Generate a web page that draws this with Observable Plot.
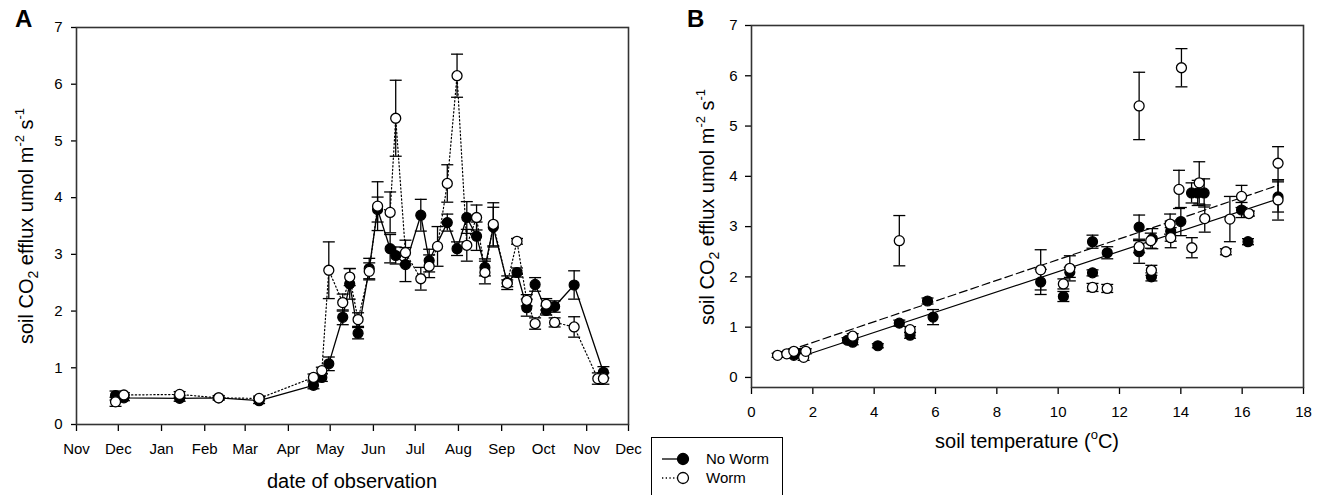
<!DOCTYPE html>
<html><head><meta charset="utf-8">
<script src="https://cdn.jsdelivr.net/npm/d3@7"></script>
<script src="https://cdn.jsdelivr.net/npm/@observablehq/plot@0.6"></script>
<style>
html,body{margin:0;padding:0;background:#fff;overflow:hidden;}
#wrap{position:relative;width:1321px;height:495px;font-family:"Liberation Sans",Arial,sans-serif;}
#panelA,#panelB{position:absolute;top:0;}
#panelA{left:0;} #panelB{left:660px;}
#legend{position:absolute;left:651px;top:437px;width:130px;height:80px;border:1px solid #000;background:#fff;}
</style></head><body><div id="wrap"><div id="panelA"></div><div id="panelB"></div><div id="legend"></div></div>
<script>
// ---------- Panel A data: flux by date ----------
const noWormDates = ["2007-11-29","2007-12-05","2008-01-14","2008-02-11","2008-03-11","2008-04-19","2008-04-25","2008-04-30","2008-05-10","2008-05-15","2008-05-21","2008-05-29","2008-06-04","2008-06-13","2008-06-17","2008-06-24","2008-07-05","2008-07-11","2008-07-24","2008-07-31","2008-08-07","2008-08-14","2008-08-20","2008-08-26","2008-09-05","2008-09-12","2008-09-19","2008-09-25","2008-10-03","2008-10-09","2008-10-23","2008-11-13"];
const noWormFlux = [0.51,0.47,0.46,0.47,0.42,0.69,0.83,1.07,1.89,2.48,1.61,2.75,3.79,3.10,2.98,2.82,3.69,2.89,3.56,3.10,3.65,3.32,2.77,3.48,2.50,2.68,2.06,2.47,2.01,2.08,2.46,0.92];
const noWormSE = [0.08,0.05,0.05,0.04,0.05,0.06,0.07,0.12,0.13,0.27,0.10,0.18,0.22,0.25,0.15,0.30,0.28,0.20,0.15,0.12,0.28,0.25,0.15,0.35,0.12,0.08,0.15,0.12,0.08,0.10,0.25,0.10];

const wormDates = ["2007-11-29","2007-12-05","2008-01-14","2008-02-11","2008-03-11","2008-04-19","2008-04-25","2008-04-30","2008-05-10","2008-05-15","2008-05-21","2008-05-29","2008-06-04","2008-06-13","2008-06-17","2008-06-24","2008-07-05","2008-07-11","2008-07-17","2008-07-24","2008-07-31","2008-08-07","2008-08-14","2008-08-20","2008-08-26","2008-09-05","2008-09-12","2008-09-19","2008-09-25","2008-10-03","2008-10-09","2008-10-23","2008-11-09","2008-11-13"];
const wormFlux = [0.40,0.52,0.53,0.47,0.46,0.83,0.95,2.72,2.15,2.60,1.85,2.70,3.85,3.74,5.40,3.03,2.57,2.79,3.14,4.25,6.15,3.16,3.65,2.68,3.53,2.49,3.23,2.19,1.78,2.12,1.80,1.72,0.81,0.81];
const wormSE = [0.08,0.04,0.05,0.03,0.04,0.06,0.06,0.50,0.15,0.15,0.12,0.15,0.43,0.36,0.67,0.22,0.20,0.20,0.35,0.33,0.38,0.28,0.22,0.20,0.38,0.06,0.05,0.10,0.10,0.10,0.08,0.18,0.10,0.10];

const monthLabels = ["Nov","Dec","Jan","Feb","Mar","Apr","May","Jun","Jul","Aug","Sep","Oct","Nov","Dec"];
const dateDomain = ["2007-11-01","2008-12-01"];
const yTicksA = [0,1,2,3,4,5,6,7];

// ---------- Panel B data: flux by soil temperature ----------
const noWormTemp = [1.38,1.60,3.13,3.30,4.12,4.82,5.17,5.74,5.92,9.43,10.17,10.38,11.12,11.12,11.60,12.64,12.64,13.04,13.07,13.67,14.00,14.35,14.55,14.76,15.98,16.19,17.17];
const noWormFluxB = [0.44,0.48,0.74,0.70,0.63,1.08,0.84,1.52,1.20,1.90,1.61,2.09,2.08,2.70,2.48,2.50,2.99,2.00,2.76,2.91,3.10,3.67,3.67,3.67,3.33,2.70,3.59];
const noWormSEB = [0.05,0.05,0.05,0.05,0.04,0.06,0.06,0.06,0.15,0.25,0.10,0.10,0.06,0.13,0.12,0.23,0.24,0.08,0.20,0.20,0.28,0.20,0.25,0.28,0.15,0.06,0.30];

const wormTemp = [0.85,1.15,1.38,1.70,1.77,3.30,4.82,5.17,9.43,10.17,10.38,11.12,11.60,12.64,12.64,13.02,13.04,13.65,13.67,13.94,14.02,14.36,14.60,14.78,15.47,15.60,15.98,16.22,17.17,17.17];
const wormFluxB = [0.44,0.47,0.52,0.40,0.52,0.82,2.72,0.95,2.14,1.86,2.17,1.79,1.77,5.40,2.60,2.72,2.13,3.05,2.78,3.74,6.16,2.58,3.87,3.16,2.50,3.15,3.60,3.26,4.26,3.53];
const wormSEB = [0.04,0.04,0.05,0.06,0.05,0.05,0.50,0.06,0.40,0.10,0.25,0.08,0.08,0.67,0.12,0.15,0.10,0.20,0.20,0.38,0.38,0.20,0.42,0.27,0.06,0.45,0.22,0.05,0.33,0.40];

// regression fits [intercept, slope]
const fitNoWorm = [0.089, 0.2016];
const fitWorm = [0.284, 0.206];
const xTicksB = [0,2,4,6,8,10,12,14,16,18];
const yTicksB = [0,1,2,3,4,5,6,7];

// ---------- build tables ----------
const tableA = (dates, flux, se) => dates.map((d,i)=>({date:new Date(d), flux:flux[i], se:se[i]}));
const tableB = (t, flux, se) => t.map((x,i)=>({temp:x, flux:flux[i], se:se[i]}));
const nwA = tableA(noWormDates, noWormFlux, noWormSE);
const wA = tableA(wormDates, wormFlux, wormSE);
const nwB = tableB(noWormTemp, noWormFluxB, noWormSEB);
const wB = tableB(wormTemp, wormFluxB, wormSEB);
const fitLine = (temps, fit) => d3.extent(temps).map(t=>({temp:t, flux:fit[0]+fit[1]*t}));

const cap = {draw(ctx, size){ const r = Math.sqrt(size/Math.PI); ctx.moveTo(-r,0); ctx.lineTo(r,0); }};
const FONT = '"Liberation Sans", Arial, sans-serif';

function errMarks(data, x) {
  return [
    Plot.ruleX(data, {x, y1: d=>d.flux-d.se, y2: d=>d.flux+d.se, stroke:"black", strokeWidth:1.3}),
    Plot.dot(data, {x, y: d=>d.flux+d.se, symbol: cap, r:6, stroke:"black", fill:"none", strokeWidth:1.3}),
    Plot.dot(data, {x, y: d=>d.flux-d.se, symbol: cap, r:6, stroke:"black", fill:"none", strokeWidth:1.3})
  ];
}

const monthTicks = d3.utcMonth.range(new Date(dateDomain[0]), d3.utcDay.offset(new Date(dateDomain[1]),1));

const plotA = Plot.plot({
  width: 660, height: 495,
  marginLeft: 76, marginTop: 27, marginRight: 32, marginBottom: 71,
  style: {fontFamily: FONT, fontSize: "15px", color: "black", background: "white"},
  x: {type: "utc", domain: dateDomain.map(d=>new Date(d))},
  y: {domain: [0,7]},
  marks: [
    Plot.axisX({ticks: monthTicks, tickFormat: (d,i)=>monthLabels[i], tickSize: 7, tickPadding: 12, label: null, strokeWidth: 1.3, fontSize: 15}),
    Plot.axisY({ticks: yTicksA, tickFormat: d=>String(d), tickSize: 5, tickPadding: 9, label: null, strokeWidth: 1.3, fontSize: 15}),
    Plot.line(nwA, {x:"date", y:"flux", stroke:"black", strokeWidth:1.3}),
    Plot.line(wA, {x:"date", y:"flux", stroke:"black", strokeWidth:1.2, strokeDasharray:"1.3,2.4"}),
    ...errMarks(nwA, "date"),
    ...errMarks(wA, "date"),
    Plot.dot(nwA, {x:"date", y:"flux", r:5, fill:"black", stroke:"black", strokeWidth:1.2}),
    Plot.dot(wA, {x:"date", y:"flux", r:5, fill:"white", stroke:"black", strokeWidth:1.3}),
    Plot.frame({stroke:"#333", strokeWidth:1.6})
  ]
});
document.getElementById("panelA").appendChild(plotA);

const plotB = Plot.plot({
  width: 661, height: 495,
  marginLeft: 91, marginTop: 25, marginRight: 18, marginBottom: 108,
  style: {fontFamily: FONT, fontSize: "15px", color: "black", background: "white"},
  x: {domain: [0,18]},
  y: {domain: [-0.2,7]},
  marks: [
    Plot.axisX({ticks: xTicksB, tickFormat: d=>String(d), tickSize: 7, tickPadding: 12, label: null, strokeWidth: 1.3, fontSize: 15}),
    Plot.axisY({ticks: yTicksB, tickFormat: d=>String(d), tickSize: 6, tickPadding: 8, label: null, strokeWidth: 1.3, fontSize: 15}),
    Plot.line(fitLine(noWormTemp, fitNoWorm), {x:"temp", y:"flux", stroke:"black", strokeWidth:1.2}),
    Plot.line(fitLine(wormTemp, fitWorm), {x:"temp", y:"flux", stroke:"black", strokeWidth:1.2, strokeDasharray:"8,4"}),
    ...errMarks(nwB, "temp"),
    ...errMarks(wB, "temp"),
    Plot.dot(nwB, {x:"temp", y:"flux", r:5, fill:"black", stroke:"black", strokeWidth:1.2}),
    Plot.dot(wB, {x:"temp", y:"flux", r:5, fill:"white", stroke:"black", strokeWidth:1.3}),
    Plot.frame({stroke:"#333", strokeWidth:1.6})
  ]
});
document.getElementById("panelB").appendChild(plotB);

// ---------- titles ----------
function yTitle(svg, x, y) {
  const t = d3.select(svg).append("text")
    .attr("transform", `translate(${x},${y}) rotate(-90)`)
    .attr("text-anchor","middle").attr("font-size",20).attr("fill","black")
    .attr("font-family", FONT);
  t.append("tspan").text("soil CO");
  t.append("tspan").attr("font-size",14).attr("dy",5).text("2");
  t.append("tspan").attr("dy",-5).text(" efflux umol m");
  t.append("tspan").attr("font-size",13).attr("dy",-9).text("-2");
  t.append("tspan").attr("dy",9).text(" s");
  t.append("tspan").attr("font-size",13).attr("dy",-9).text("-1");
}
function label(svg, x, y, txt, opts={}) {
  return d3.select(svg).append("text").attr("x",x).attr("y",y)
    .attr("font-size", opts.size||20).attr("font-weight", opts.bold?"bold":"normal")
    .attr("text-anchor", opts.anchor||"start").attr("fill","black").attr("font-family", FONT).text(txt);
}
yTitle(plotA, 33, 226);
label(plotA, 352, 488, "date of observation", {anchor:"middle"});
label(plotA, 15, 27, "A", {bold:true, size:24});

yTitle(plotB, 714-660, 207);
const xt = label(plotB, 1027-660, 448, "soil temperature (", {anchor:"middle"});
xt.append("tspan").attr("font-size",13).attr("dy",-9).text("o");
xt.append("tspan").attr("dy",9).text("C)");
label(plotB, 687-660, 27, "B", {bold:true, size:24});

// ---------- legend ----------
const lg = d3.select("#legend").append("svg").attr("width",130).attr("height",80)
  .style("font-family", FONT);
const rows = [{name:"No Worm", fill:"black", dash:null, y:21},{name:"Worm", fill:"white", dash:"1.3,2.4", y:40}];
rows.forEach(r=>{
  lg.append("line").attr("x1",10).attr("x2",31).attr("y1",r.y).attr("y2",r.y).attr("stroke","black").attr("stroke-width",1.3).attr("stroke-dasharray",r.dash);
  lg.append("circle").attr("cx",31).attr("cy",r.y).attr("r",5.5).attr("fill",r.fill).attr("stroke","black").attr("stroke-width",1.3);
  lg.append("text").attr("x",54).attr("y",r.y+5).attr("font-size",15).text(r.name);
});
</script></body></html>
